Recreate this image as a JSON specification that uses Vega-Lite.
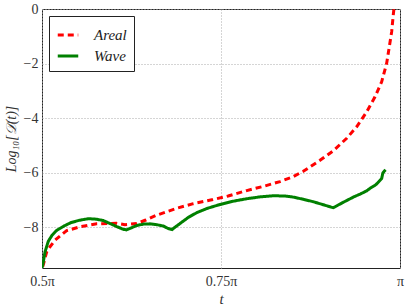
{
  "$schema": "https://vega.github.io/schema/vega-lite/v6.json",
  "width": 358,
  "height": 259,
  "autosize": {"type": "none"},
  "padding": {"left": 42, "top": 9, "right": 7, "bottom": 37},
  "config": {
    "view": {"stroke": "#222", "strokeWidth": 1},
    "font": "Liberation Serif",
    "axis": {"labelFont": "Liberation Serif", "titleFont": "Liberation Serif"},
    "legend": {"labelFont": "Liberation Serif"}
  },
  "data": {
    "values": [
      {"t": 0.5010, "v": -9.45, "s": "Areal"},
      {"t": 0.5028, "v": -9.28, "s": "Areal"},
      {"t": 0.5045, "v": -9.10, "s": "Areal"},
      {"t": 0.5066, "v": -8.91, "s": "Areal"},
      {"t": 0.5112, "v": -8.72, "s": "Areal"},
      {"t": 0.5182, "v": -8.48, "s": "Areal"},
      {"t": 0.5297, "v": -8.23, "s": "Areal"},
      {"t": 0.5345, "v": -8.13, "s": "Areal"},
      {"t": 0.5531, "v": -7.99, "s": "Areal"},
      {"t": 0.5764, "v": -7.88, "s": "Areal"},
      {"t": 0.6043, "v": -7.86, "s": "Areal"},
      {"t": 0.6159, "v": -7.91, "s": "Areal"},
      {"t": 0.6323, "v": -7.87, "s": "Areal"},
      {"t": 0.6450, "v": -7.74, "s": "Areal"},
      {"t": 0.6602, "v": -7.56, "s": "Areal"},
      {"t": 0.6741, "v": -7.44, "s": "Areal"},
      {"t": 0.6881, "v": -7.31, "s": "Areal"},
      {"t": 0.7113, "v": -7.14, "s": "Areal"},
      {"t": 0.7388, "v": -6.99, "s": "Areal"},
      {"t": 0.7600, "v": -6.86, "s": "Areal"},
      {"t": 0.7859, "v": -6.66, "s": "Areal"},
      {"t": 0.8100, "v": -6.50, "s": "Areal"},
      {"t": 0.8324, "v": -6.33, "s": "Areal"},
      {"t": 0.8500, "v": -6.16, "s": "Areal"},
      {"t": 0.8650, "v": -5.95, "s": "Areal"},
      {"t": 0.8883, "v": -5.55, "s": "Areal"},
      {"t": 0.9068, "v": -5.20, "s": "Areal"},
      {"t": 0.9256, "v": -4.74, "s": "Areal"},
      {"t": 0.9395, "v": -4.32, "s": "Areal"},
      {"t": 0.9535, "v": -3.77, "s": "Areal"},
      {"t": 0.9651, "v": -3.22, "s": "Areal"},
      {"t": 0.9744, "v": -2.67, "s": "Areal"},
      {"t": 0.9814, "v": -1.99, "s": "Areal"},
      {"t": 0.9851, "v": -1.38, "s": "Areal"},
      {"t": 0.9884, "v": -0.83, "s": "Areal"},
      {"t": 0.9906, "v": -0.22, "s": "Areal"},
      {"t": 0.9915, "v": 0.0, "s": "Areal"},

      {"t": 0.5000, "v": -9.5, "s": "Wave"},
      {"t": 0.5018, "v": -9.28, "s": "Wave"},
      {"t": 0.5042, "v": -8.91, "s": "Wave"},
      {"t": 0.5088, "v": -8.52, "s": "Wave"},
      {"t": 0.5140, "v": -8.30, "s": "Wave"},
      {"t": 0.5205, "v": -8.12, "s": "Wave"},
      {"t": 0.5300, "v": -7.97, "s": "Wave"},
      {"t": 0.5400, "v": -7.84, "s": "Wave"},
      {"t": 0.5520, "v": -7.75, "s": "Wave"},
      {"t": 0.5650, "v": -7.69, "s": "Wave"},
      {"t": 0.5760, "v": -7.71, "s": "Wave"},
      {"t": 0.5856, "v": -7.76, "s": "Wave"},
      {"t": 0.5960, "v": -7.88, "s": "Wave"},
      {"t": 0.6043, "v": -7.98, "s": "Wave"},
      {"t": 0.6135, "v": -8.08, "s": "Wave"},
      {"t": 0.6180, "v": -8.10, "s": "Wave"},
      {"t": 0.6229, "v": -8.05, "s": "Wave"},
      {"t": 0.6323, "v": -7.94, "s": "Wave"},
      {"t": 0.6420, "v": -7.89, "s": "Wave"},
      {"t": 0.6508, "v": -7.88, "s": "Wave"},
      {"t": 0.6600, "v": -7.91, "s": "Wave"},
      {"t": 0.6694, "v": -7.96, "s": "Wave"},
      {"t": 0.6760, "v": -8.05, "s": "Wave"},
      {"t": 0.6816, "v": -8.09, "s": "Wave"},
      {"t": 0.6860, "v": -8.00, "s": "Wave"},
      {"t": 0.6927, "v": -7.87, "s": "Wave"},
      {"t": 0.7040, "v": -7.65, "s": "Wave"},
      {"t": 0.7161, "v": -7.47, "s": "Wave"},
      {"t": 0.7300, "v": -7.32, "s": "Wave"},
      {"t": 0.7486, "v": -7.17, "s": "Wave"},
      {"t": 0.7650, "v": -7.06, "s": "Wave"},
      {"t": 0.7859, "v": -6.96, "s": "Wave"},
      {"t": 0.8050, "v": -6.89, "s": "Wave"},
      {"t": 0.8230, "v": -6.85, "s": "Wave"},
      {"t": 0.8400, "v": -6.86, "s": "Wave"},
      {"t": 0.8510, "v": -6.90, "s": "Wave"},
      {"t": 0.8650, "v": -6.98, "s": "Wave"},
      {"t": 0.8789, "v": -7.07, "s": "Wave"},
      {"t": 0.8930, "v": -7.18, "s": "Wave"},
      {"t": 0.9068, "v": -7.29, "s": "Wave"},
      {"t": 0.9200, "v": -7.10, "s": "Wave"},
      {"t": 0.9348, "v": -6.90, "s": "Wave"},
      {"t": 0.9450, "v": -6.78, "s": "Wave"},
      {"t": 0.9535, "v": -6.67, "s": "Wave"},
      {"t": 0.9581, "v": -6.58, "s": "Wave"},
      {"t": 0.9665, "v": -6.44, "s": "Wave"},
      {"t": 0.9744, "v": -6.22, "s": "Wave"},
      {"t": 0.9760, "v": -6.02, "s": "Wave"},
      {"t": 0.9780, "v": -5.95, "s": "Wave"},
      {"t": 0.9800, "v": -5.90, "s": "Wave"}
    ]
  },
  "mark": {"type": "line", "strokeWidth": 3, "clip": true},
  "encoding": {
    "x": {
      "field": "t",
      "type": "quantitative",
      "scale": {"domain": [0.5, 1.0], "nice": false, "zero": false},
      "axis": {
        "values": [0.5, 0.75, 1.0],
        "labelExpr": "datum.value == 1 ? 'π' : datum.value + 'π'",
        "title": "t",
        "titleFont": "Liberation Serif",
        "labelFont": "Liberation Serif",
        "titleFontStyle": "italic",
        "titleFontWeight": "normal",
        "titleFontSize": 15,
        "titlePadding": 3,
        "labelFontSize": 14,
        "labelColor": "#333",
        "titleColor": "#333",
        "labelPadding": 6,
        "ticks": false,
        "domain": false,
        "grid": true,
        "gridColor": "#aaaaaa",
        "gridDash": [1, 2],
        "gridWidth": 1,
        "labelFlush": false
      }
    },
    "y": {
      "field": "v",
      "type": "quantitative",
      "scale": {"domain": [-9.5, 0], "nice": false, "zero": false},
      "axis": {
        "values": [0, -2, -4, -6, -8],
        "title": "Log₁₀[𝒟(t)]",
        "titleFont": "Liberation Serif",
        "labelFont": "Liberation Serif",
        "titleFontStyle": "italic",
        "titleFontWeight": "normal",
        "titleFontSize": 14,
        "titlePadding": 5,
        "labelFontSize": 14,
        "labelColor": "#333",
        "titleColor": "#333",
        "labelPadding": 4,
        "ticks": false,
        "domain": false,
        "grid": true,
        "gridColor": "#aaaaaa",
        "gridDash": [1, 2],
        "gridWidth": 1
      }
    },
    "color": {
      "field": "s",
      "type": "nominal",
      "scale": {"domain": ["Areal", "Wave"], "range": ["#ff0000", "#008000"]},
      "legend": {
        "title": null,
        "orient": "top-left",
        "offset": 7,
        "strokeColor": "#222",
        "fillColor": "white",
        "padding": 7,
        "symbolType": "stroke",
        "symbolSize": 420,
        "symbolStrokeWidth": 3,
        "rowPadding": 1,
        "labelFont": "Liberation Serif",
        "labelFontSize": 15,
        "labelFontStyle": "italic",
        "labelColor": "#222",
        "labelOffset": 14,
        "cornerRadius": 0
      }
    },
    "strokeDash": {
      "field": "s",
      "type": "nominal",
      "scale": {"domain": ["Areal", "Wave"], "range": [[6, 4], [1, 0]]},
      "legend": null
    }
  }
}
